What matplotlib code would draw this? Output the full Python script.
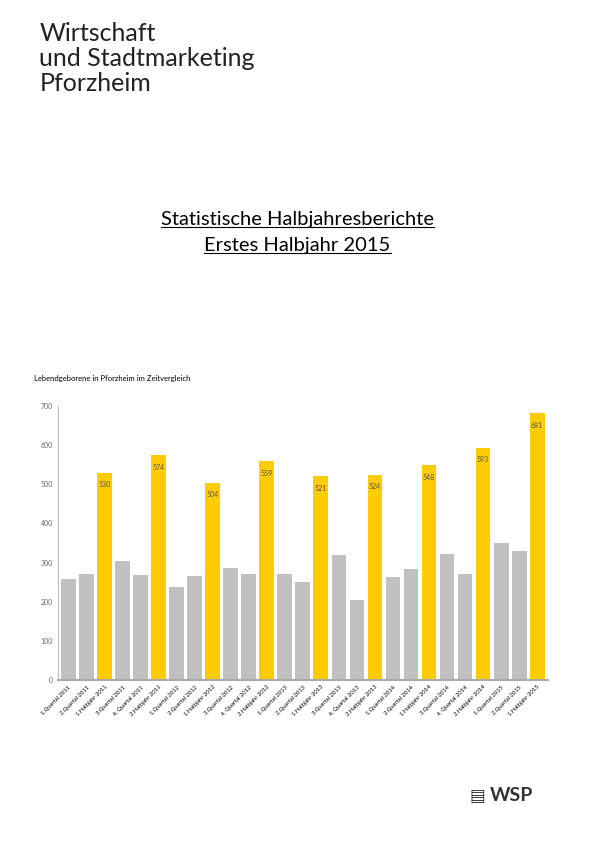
import matplotlib.pyplot as plt

labels = ["1.Quartal 2011", "2.Quartal 2011", "1.Halbjahr 2011", "3.Quartal 2011", "4. Quartal 2011",
          "2.Halbjahr 2011", "1.Quartal 2012", "2.Quartal 2012", "1.Halbjahr 2012", "3.Quartal 2012",
          "4. Quartal 2012", "2.Halbjahr 2012", "1.Quartal 2013", "2.Quartal 2013", "1.Halbjahr 2013",
          "3.Quartal 2013", "4. Quartal 2013", "2.Halbjahr 2013", "1.Quartal 2014", "2.Quartal 2014",
          "1.Halbjahr 2014", "3.Quartal 2014", "4. Quartal 2014", "2.Halbjahr 2014", "1.Quartal 2015",
          "2.Quartal 2015", "1.Halbjahr 2015"]
values = [258, 271, 530, 305, 268, 574, 237, 266, 504, 287, 271, 559, 271, 250, 521,
          320, 205, 524, 263, 285, 548, 323, 270, 593, 350, 331, 681]

plt.rcParams['font.family'] = ['Lato', 'DejaVu Sans']
fig = plt.figure(figsize=(5.95, 8.42), dpi=100)

fig.text(0.066, 0.974, "Wirtschaft\nund Stadtmarketing\nPforzheim", fontsize=18, va='top',
         linespacing=1.1, color='#222222')
titles = [fig.text(0.5, 0.739, "Statistische Halbjahresberichte", fontsize=14.5, ha='center', va='center'),
          fig.text(0.5, 0.708, "Erstes Halbjahr 2015", fontsize=14.5, ha='center', va='center')]
fig.canvas.draw()
inv = fig.transFigure.inverted()
for t in titles:
    bb = t.get_window_extent().transformed(inv)
    fig.add_artist(plt.Line2D([bb.x0, bb.x1], [bb.y0 + 0.002, bb.y0 + 0.002], color='black', lw=0.8))
fig.text(0.057, 0.548, "Lebendgeborene in Pforzheim im Zeitvergleich", fontsize=5.5)

ax = fig.add_axes([0.097, 0.192, 0.824, 0.326])
colors = ['#ffcc00' if 'Halbjahr' in l else '#c0c0c0' for l in labels]
x = range(len(values))
ax.bar(x, values, width=0.82, color=colors)
for i, (v, l) in enumerate(zip(values, labels)):
    if 'Halbjahr' in l:
        ax.text(i, v - 22, str(v), ha='center', va='top', fontsize=5, color='#555555')
ax.set_xlim(-0.6, len(values) - 0.4)
ax.set_ylim(0, 700)
ax.set_yticks(range(0, 701, 100))
ax.tick_params(axis='y', labelsize=5, colors='#666666', length=0)
ax.set_xticks(list(x))
ax.set_xticklabels(labels, rotation=45, ha='right', rotation_mode='anchor', fontsize=4.2)
ax.tick_params(axis='x', length=0, pad=3)
for s in ['top', 'right']:
    ax.spines[s].set_visible(False)
ax.spines['left'].set_color('#bbbbbb')
ax.spines['bottom'].set_color('#aaaaaa')
ax.spines['bottom'].set_linewidth(1.5)

fig.text(0.86, 0.055, "WSP", fontsize=14, fontweight='bold', ha='center', va='center', color='#333333')
fig.text(0.803, 0.055, "▤", fontsize=12, ha='center', va='center', color='#333333')

fig.savefig("out.png", dpi=100)
